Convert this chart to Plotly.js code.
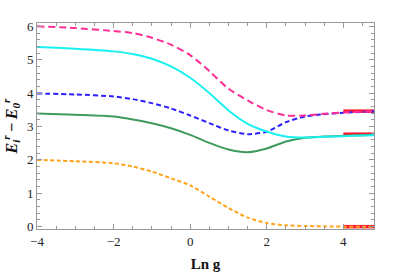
<!DOCTYPE html>
<html>
<head>
<meta charset="utf-8">
<script src="https://cdn.plot.ly/plotly-3.0.1.min.js"></script>
<style>html,body{margin:0;padding:0;background:#fff;}#chart{width:395px;height:274px;}</style>
</head>
<body>
<div id="chart"></div>
<script>
const lnG = [-4, -3, -2, -1.5, -1, -0.5, 0, 0.5, 1, 1.5, 2, 2.5, 3, 3.5, 4, 4.5, 4.8];
const level1 = [2.00, 1.96, 1.90, 1.80, 1.65, 1.45, 1.24, 0.90, 0.56, 0.27, 0.11, 0.04, 0.02, 0.01, 0.00, 0.00, 0.00];
const level2 = [3.39, 3.35, 3.30, 3.21, 3.10, 2.95, 2.75, 2.51, 2.31, 2.23, 2.34, 2.55, 2.66, 2.70, 2.72, 2.74, 2.75];
const level3 = [3.99, 3.96, 3.90, 3.82, 3.70, 3.54, 3.33, 3.10, 2.88, 2.77, 2.84, 3.13, 3.30, 3.37, 3.41, 3.44, 3.45];
const level4 = [5.38, 5.33, 5.25, 5.17, 5.03, 4.80, 4.46, 4.00, 3.48, 3.08, 2.85, 2.70, 2.67, 2.69, 2.71, 2.73, 2.74];
const level5 = [6.00, 5.95, 5.86, 5.80, 5.66, 5.45, 5.14, 4.66, 4.13, 3.78, 3.49, 3.33, 3.33, 3.38, 3.42, 3.44, 3.45];
const limitX = [4, 4.8];
const limitValues = [0, 2.77, 3.46];
const xTicks = [-4, -2, 0, 2, 4];
const yTicks = [0, 1, 2, 3, 4, 5, 6];

const SERIF = "Times New Roman";

const traces = [];
limitValues.forEach(v => traces.push({
  x: limitX, y: limitX.map(() => v), mode: 'lines',
  line: {color: '#ff1a33', width: 3.5}, hoverinfo: 'skip'
}));
const series = [
  {y: level1, color: '#ffa31a', dash: '4px,2.5px', width: 2},
  {y: level2, color: '#3f9a5e', dash: 'solid', width: 2},
  {y: level3, color: '#2e1fff', dash: '5px,3px', width: 2},
  {y: level4, color: '#1af0f0', dash: 'solid', width: 2},
  {y: level5, color: '#ff2d96', dash: '7px,4px', width: 2}
];
series.forEach(s => traces.push({
  x: lnG, y: s.y, mode: 'lines',
  line: {color: s.color, width: s.width, dash: s.dash, shape: 'spline', smoothing: 0.6}
}));

const axisCommon = {
  showgrid: false, zeroline: false, showline: true, linecolor: '#999', linewidth: 1,
  mirror: 'allticks', ticks: 'inside', ticklen: 5, tickcolor: '#999', tickwidth: 1,
  tickfont: {family: SERIF, size: 13, color: '#222'}
};

const layout = {
  width: 395, height: 274,
  margin: {l: 37, r: 21, t: 23, b: 45},
  paper_bgcolor: '#fff', plot_bgcolor: '#fff',
  font: {family: SERIF},
  showlegend: false,
  xaxis: Object.assign({}, axisCommon, {
    range: [-4, 4.8], tickvals: xTicks,
    minor: {dtick: 0.5, tick0: -4, ticks: 'inside', ticklen: 3, tickcolor: '#999'},
    title: {text: '<b>Ln g</b>', font: {family: SERIF, size: 15, color: '#111'}, standoff: 10}
  }),
  yaxis: Object.assign({}, axisCommon, {
    range: [-0.07, 6.1], tickvals: yTicks,
    minor: {dtick: 0.2, tick0: 0, ticks: 'inside', ticklen: 3, tickcolor: '#999'},
    title: {text: '<b><i>E<sub>i</sub><sup>r</sup>\u2009\u2212\u2009E<sub>0</sub><sup>r</sup></i></b>', font: {family: SERIF, size: 16, color: '#111'}, standoff: 8}
  })
};

Plotly.newPlot('chart', traces, layout, {staticPlot: true, displayModeBar: false});
</script>
</body>
</html>
